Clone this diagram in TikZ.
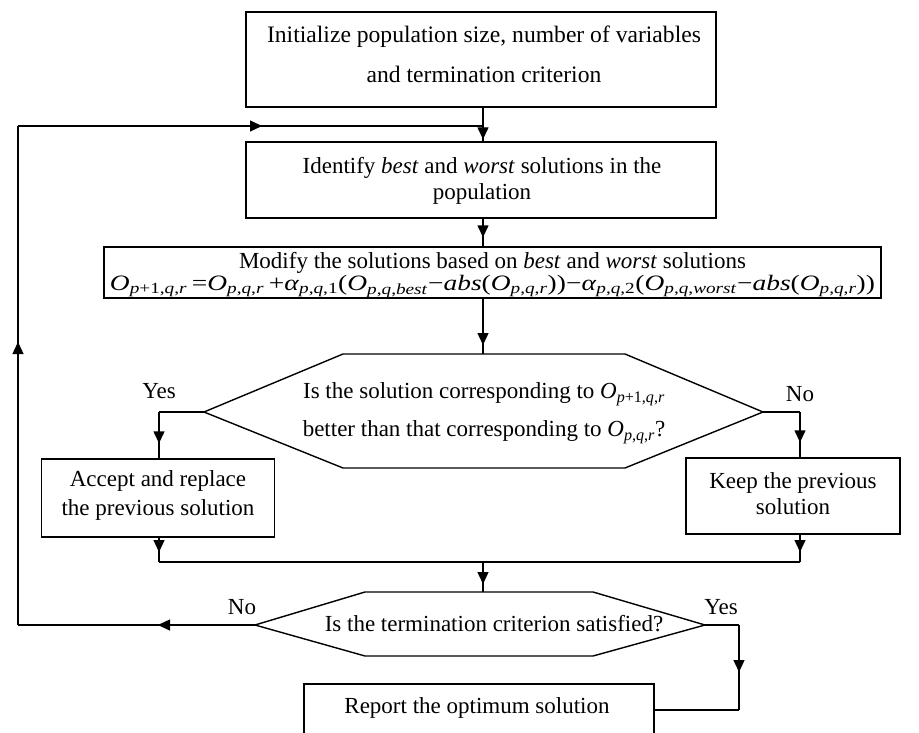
\documentclass[tikz,border=0pt]{standalone}
\usepackage{fontspec}
\setmainfont{Liberation Serif}
\usepackage{graphicx}
\usetikzlibrary{arrows.meta,decorations.markings}
\newcommand{\Osub}[1]{\textit{O}\textsubscript{#1}}
\newcommand{\pqr}{\textit{p},\textit{q},\textit{r}}
\newcommand{\pq}{\textit{p},\textit{q}}
\tikzset{
  box/.style={draw, line width=1.4pt, inner sep=0pt},
  ln/.style={line width=1.4pt},
  txt/.style={align=center, inner sep=0pt, font=\fontsize{23}{26}\selectfont},
  arrowat/.style={postaction={decorate}, decoration={markings,
      mark=at position #1 with {\arrow{Triangle[length=12pt,width=11pt]}}}}
}
\begin{document}
\begin{tikzpicture}[x=1pt,y=-1pt]
\useasboundingbox (0,0) rectangle (919,733);
\clip (0,0) rectangle (919,733);
\fill[white] (0,0) rectangle (919,733);
\coordinate (col) at (483,0);

% boxes
\node[box, minimum width=470pt, minimum height=95pt] (init) at (481,59.5) {};
\node[txt, font=\fontsize{23.6}{40}\selectfont] (initT) at (484,54) {Initialize population size, number of variables\\and termination criterion};

\node[box, minimum width=470pt, minimum height=76pt] (ident) at (481,180) {};
\node[txt] (identT) at (482,181) {Identify \textit{best} and \textit{worst} solutions in the\\population};

\node[box, minimum width=777pt, minimum height=51pt] (mod) at (492.5,272.5) {};
\node[txt, font=\fontsize{23}{22}\selectfont] (modT) at (492.5,275) {Modify the solutions based on \textit{best} and \textit{worst} solutions\\
\resizebox{765pt}{\height}{\fontsize{22}{22}\selectfont\Osub{\textit{p}+1,\textit{q},\textit{r}}\,=\Osub{\pqr}\,+\textit{α}\textsubscript{\pq,1}(\Osub{\pq,\textit{best}}−\textit{abs}(\Osub{\pqr}))−\textit{α}\textsubscript{\pq,2}(\Osub{\pq,\textit{worst}}−\textit{abs}(\Osub{\pqr}))}};

% decision 1
\coordinate (h1l) at (204,412);
\coordinate (h1tl) at (343,354);
\coordinate (h1tr) at (625,354);
\coordinate (h1r) at (763,412);
\coordinate (h1br) at (625,468);
\coordinate (h1bl) at (343,468);
\draw[ln] (h1l) -- (h1tl) -- (h1tr) -- (h1r) -- (h1br) -- (h1bl) -- cycle;
\node[txt, font=\fontsize{23}{38}\selectfont] (q1T) at (484,413) {Is the solution corresponding to \Osub{\textit{p}+1,\textit{q},\textit{r}}\\better than that corresponding to \Osub{\pqr}?};
\coordinate (h1top) at (483,354);

\node[box, minimum width=233pt, minimum height=78pt] (acc) at (158,498) {};
\node[txt, font=\fontsize{23}{29}\selectfont] (accT) at (158,495) {Accept and replace\\the previous solution};
\node[box, minimum width=214pt, minimum height=76pt] (keep) at (793,496) {};
\node[txt, font=\fontsize{23}{26}\selectfont] (keepT) at (793,494) {Keep the previous\\solution};

\node[txt] (yes1) at (159,391) {Yes};
\node[txt] (no1) at (800,394) {No};
\coordinate (yc) at (159,412);
\coordinate (nc) at (800,412);
\coordinate (m1) at (159,562);
\coordinate (m2) at (800,562);
\coordinate (m0) at (483,562);

% decision 2
\coordinate (h2l) at (255,625);
\coordinate (h2tl) at (365,592);
\coordinate (h2tr) at (593,592);
\coordinate (h2r) at (705,625);
\coordinate (h2br) at (593,656);
\coordinate (h2bl) at (365,656);
\draw[ln] (h2l) -- (h2tl) -- (h2tr) -- (h2r) -- (h2br) -- (h2bl) -- cycle;
\node[txt] (q2T) at (494,624) {Is the termination criterion satisfied?};
\node[txt] (no2) at (242,607) {No};
\node[txt] (yes2) at (721,607) {Yes};

\node[box, minimum width=350pt, minimum height=70pt] (rep) at (479,719) {};
\node[txt] (repT) at (477,708) {Report the optimum solution};

% loop corners
\coordinate (c1) at (18,625);
\coordinate (c2) at (18,126);
\coordinate (j1) at (483,126);
\coordinate (c3) at (739,625);
\coordinate (c4) at (739,710);

% connectors
\draw[ln] (init.south -| col) -- (j1);
\draw[ln, arrowat=-2pt] (j1) -- (ident.north -| col);
\draw[ln, arrowat=-9pt] (ident.south -| col) -- (mod.north -| col);
\draw[ln, arrowat=-9pt] (mod.south -| col) -- (h1top);
\draw[ln] (h1l) -- (yc);
\draw[ln, arrowat=-15pt] (yc) -- (acc.north -| yc);
\draw[ln] (h1r) -- (nc);
\draw[ln, arrowat=-15pt] (nc) -- (keep.north -| nc);
\draw[ln, arrowat=-10pt] (acc.south -| yc) -- (m1);
\draw[ln, arrowat=-10pt] (keep.south -| nc) -- (m2);
\draw[ln] (m1) -- (m2);
\draw[ln, arrowat=-8pt] (m0) -- (m0 |- h2tl);
\draw[ln, arrowat=97pt] (h2l) -- (c1);
\draw[ln, arrowat=283pt] (c1) -- (c2);
\draw[ln, arrowat=244pt] (c2) -- (j1);
\draw[ln] (h2r) -- (c3);
\draw[ln, arrowat=47pt] (c3) -- (c4);
\draw[ln] (c4) -- (c4 -| rep.east);
\end{tikzpicture}
\end{document}
